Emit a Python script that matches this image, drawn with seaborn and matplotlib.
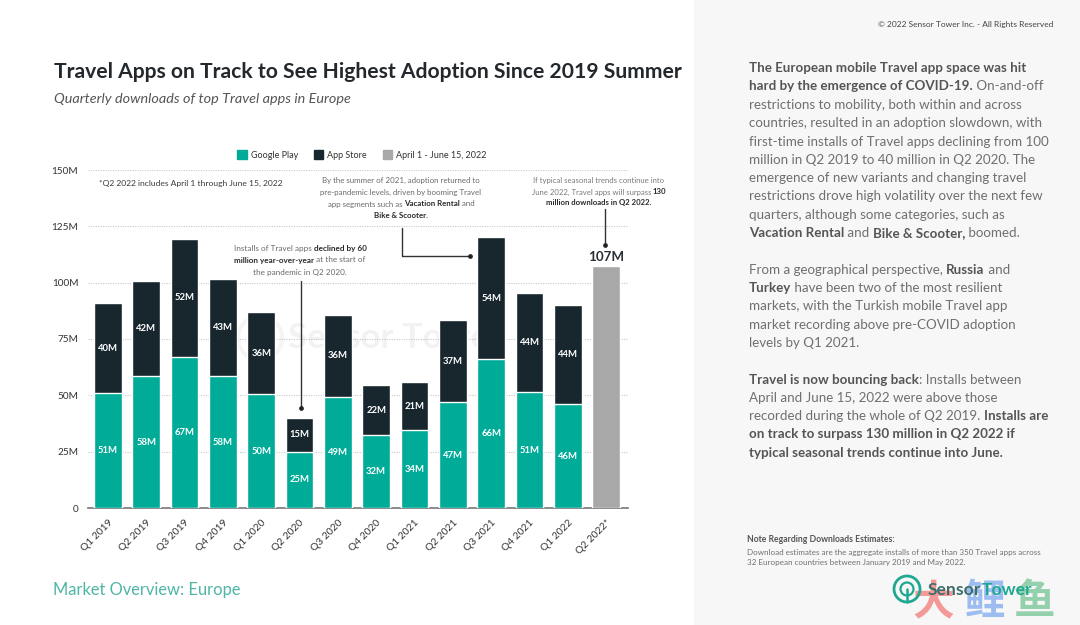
import matplotlib
matplotlib.use('Agg')
import matplotlib.pyplot as plt
from matplotlib.patches import Patch, Rectangle, Circle
import numpy as np
import pandas as pd
import seaborn as sns

quarters = ['Q1 2019', 'Q2 2019', 'Q3 2019', 'Q4 2019', 'Q1 2020', 'Q2 2020', 'Q3 2020',
            'Q4 2020', 'Q1 2021', 'Q2 2021', 'Q3 2021', 'Q4 2021', 'Q1 2022', 'Q2 2022*']
google_play = [51, 58.4, 67.2, 58.4, 50.4, 25, 49.4, 32.4, 34.4, 46.9, 66, 51.4, 46, np.nan]
app_store = [40, 42.4, 52.2, 43.4, 36.4, 15, 36.4, 22, 21.4, 36.6, 54.3, 44.2, 44.3, np.nan]
partial_q2 = [np.nan] * 13 + [107.6]
partial_label = '107M'

y_ticks = [0, 25, 50, 75, 100, 125, 150]
y_labels = ['0', '25M', '50M', '75M', '100M', '125M', '150M']

GREEN = '#00ab98'
DARK = '#18262e'
GREY = '#a8a8a8'
BODY = '#6f6f6f'
BODY_BOLD = '#555555'
FONT = 'Lato'

title = 'Travel Apps on Track to See Highest Adoption Since 2019 Summer'
subtitle = 'Quarterly downloads of top Travel apps in Europe'
footnote = '*Q2 2022 includes April 1 through June 15, 2022'
copyright_text = '© 2022 Sensor Tower Inc. - All Rights Reserved'
footer = 'Market Overview: Europe'

# (text, bold) runs per line
note_2020 = [[('Installs of Travel apps ', 0), ('declined by 60', 1)],
             [('million year-over-year', 1), (' at the start of', 0)],
             [('the pandemic in Q2 2020.', 0)]]
note_2021 = [[('By the summer of 2021, adoption returned to', 0)],
             [('pre-pandemic levels, driven by booming Travel', 0)],
             [('app segments such as ', 0), ('Vacation Rental', 1), (' and', 0)],
             [('Bike & Scooter.', 1)]]
note_2022 = [[('If typical seasonal trends continue into', 0)],
             [('June 2022, Travel apps will surpass ', 0), ('130', 1)],
             [('million downloads in Q2 2022.', 1)]]

panel_1 = [[('The European mobile Travel app space was hit', 1)],
           [('hard by the emergence of COVID-19.', 1), (' On-and-off', 0)],
           [('restrictions to mobility, both within and across', 0)],
           [('countries, resulted in an adoption slowdown, with', 0)],
           [('first-time installs of Travel apps declining from 100', 0)],
           [('million in Q2 2019 to 40 million in Q2 2020. The', 0)],
           [('emergence of new variants and changing travel', 0)],
           [('restrictions drove high volatility over the next few', 0)],
           [('quarters, although some categories, such as', 0)],
           [('Vacation Rental', 1), (' and ', 0), ('Bike & Scooter,', 1), (' boomed.', 0)]]
panel_2 = [[('From a geographical perspective, ', 0), ('Russia', 1), (' and', 0)],
           [('Turkey', 1), (' have been two of the most resilient', 0)],
           [('markets, with the Turkish mobile Travel app', 0)],
           [('market recording above pre-COVID adoption', 0)],
           [('levels by Q1 2021.', 0)]]
panel_3 = [[('Travel is now bouncing back', 1), (': Installs between', 0)],
           [('April and June 15, 2022 were above those', 0)],
           [('recorded during the whole of Q2 2019. ', 0), ('Installs are', 1)],
           [('on track to surpass 130 million in Q2 2022 if', 1)],
           [('typical seasonal trends continue into June.', 1)]]
est_head = 'Note Regarding Downloads Estimates:'
est_lines = ['Download estimates are the aggregate installs of more than 350 Travel apps across',
             '32 European countries between January 2019 and May 2022.']

sns.set_theme(style='white')
plt.rcParams['font.family'] = [FONT, 'DejaVu Sans']

df = pd.DataFrame({'quarter': quarters, 'google': google_play, 'app': app_store, 'partial': partial_q2})
df['total'] = df['google'] + df['app']

fig = plt.figure(figsize=(10.8, 6.25), dpi=100, facecolor='white')
ax = fig.add_axes([88 / 1080, 1 - 508 / 625, 540 / 1080, 338 / 625])

# totals in dark, Google Play over them, so the dark part is the App Store share
sns.barplot(data=df, x='quarter', y='total', order=quarters, color=DARK, saturation=1, width=0.72, ax=ax, zorder=3)
sns.barplot(data=df, x='quarter', y='google', order=quarters, color=GREEN, saturation=1, width=0.72, ax=ax, zorder=3)
sns.barplot(data=df, x='quarter', y='partial', order=quarters, color=GREY, saturation=1, width=0.72, ax=ax, zorder=3)

ax.set_xlim(-0.52, 13.57)
ax.set_ylim(0, 150)
ax.set_xlabel('')
ax.set_ylabel('')
ax.set_yticks(y_ticks, y_labels)
ax.tick_params(axis='y', length=0, labelsize=7.2, labelcolor='#333333', pad=7)
ax.tick_params(axis='x', length=0, labelsize=7.4, labelcolor='#333333', pad=7)
plt.setp(ax.get_xticklabels(), rotation=45, ha='right', rotation_mode='anchor')
ax.set_axisbelow(True)
ax.grid(axis='y', color='#c8c8c8', linestyle=(0, (1, 1.2)), linewidth=0.8)
sns.despine(ax=ax, left=True, top=True, right=True)
ax.spines['bottom'].set_color('#777777')
ax.spines['bottom'].set_linewidth(1.2)

for i in range(13):
    ax.text(i, google_play[i] / 2, f'{google_play[i]:.0f}M', color='white', fontsize=6.8, fontweight='bold',
            ha='center', va='center', zorder=4)
    ax.text(i, google_play[i] + app_store[i] / 2, f'{app_store[i]:.0f}M', color='white', fontsize=6.8,
            fontweight='bold', ha='center', va='center', zorder=4)
ax.text(13, partial_q2[13] + 1, partial_label, color='#2a2f33', fontsize=9.6, fontweight='bold', ha='center', va='bottom')

handles = [Patch(color=GREEN, label='Google Play'), Patch(color=DARK, label='App Store'),
           Patch(color=GREY, label='April 1 - June 15, 2022')]
fig.legend(handles=handles, ncol=3, frameon=False, loc='center', bbox_to_anchor=(362 / 1080, 1 - 155 / 625),
           fontsize=6.5, handlelength=1.05, handleheight=1.05, handletextpad=0.45, columnspacing=1.75,
           labelcolor='#333333')

# overlay in pixel coordinates for the page furniture
pg = fig.add_axes([0, 0, 1, 1], facecolor='none')
pg.set_xlim(0, 1080)
pg.set_ylim(625, 0)
pg.axis('off')
pg.add_patch(Rectangle((694, 0), 386, 625, color='#f7f7f7', zorder=0))

renderer = fig.canvas.get_renderer()


def text_width(s, size, weight):
    # the bar keeps trailing spaces in the measure
    probe = pg.text(0, 0, s + '|', fontsize=size, fontweight=weight)
    bar = pg.text(0, 0, '|', fontsize=size, fontweight=weight)
    w = probe.get_window_extent(renderer).width - bar.get_window_extent(renderer).width
    probe.remove()
    bar.remove()
    return w


def rich_lines(lines, x, ys, size, color, bold_color, ha='left'):
    for runs, y in zip(lines, ys):
        widths = [text_width(s, size, 'bold' if b else 'normal') for s, b in runs]
        cur = x - sum(widths) / 2 if ha == 'center' else x
        for (s, b), w in zip(runs, widths):
            pg.text(cur, y, s, fontsize=size, color=bold_color if b else color,
                    fontweight='bold' if b else 'normal', va='center', ha='left')
            cur += w


pg.text(54, 72, title, fontsize=15.25, fontweight='bold', color='#23282c', va='center')
pg.text(54, 99, subtitle, fontsize=10.4, style='italic', color='#555555', va='center')
pg.text(1053, 25, copyright_text, fontsize=6.0, color='#444444', va='center', ha='right')
pg.text(53, 590, footer, fontsize=11.9, color='#4fb5a5', va='center')
pg.text(99, 183, footnote, fontsize=6.1, color='#3a3a3a', va='center')

rich_lines(note_2020, 300, [248, 260, 272], 5.9, '#6a6a6a', '#2a2a2a', 'center')
rich_lines(note_2021, 401, [180, 192, 204, 215], 5.7, '#6a6a6a', '#2a2a2a', 'center')
rich_lines(note_2022, 599, [180, 192, 203], 5.6, '#7a7a7a', '#2a2a2a', 'center')

rich_lines(panel_1, 749, [68, 86, 105, 123, 142, 160, 178, 196, 215, 233], 9.65, BODY, BODY_BOLD)
rich_lines(panel_2, 749, [270, 288, 306, 325, 343], 9.65, BODY, BODY_BOLD)
rich_lines(panel_3, 749, [380, 398, 416, 434, 453], 9.65, BODY, BODY_BOLD)

pg.text(747, 540, est_head, fontsize=6.2, fontweight='bold', color='#555555', va='center')
for s, y in zip(est_lines, [552, 563]):
    pg.text(747, y, s, fontsize=5.75, color='#707070', va='center')

# leader lines
for xs, ys in [([300.5, 300.5], [281, 408]), ([402, 402, 470], [228, 256, 256]), ([605, 605], [209, 245])]:
    pg.plot(xs, ys, color='#333333', lw=1)
    pg.plot(xs[-1], ys[-1], 'o', color='#222222', ms=2.4)

# faded watermark behind the bars
ax.text(288, 338, 'Sensor Tower', transform=pg.transData, fontsize=25, fontweight='bold', color='#888888',
        alpha=0.10, va='center', zorder=1)
ax.add_patch(Circle((260, 338), 22, transform=pg.transData, fill=False, ec='#888888', lw=3, alpha=0.08, zorder=1))

# site mark, then the logo over it
for s, x, c in [('大', 933, '#f39a98'), ('鲤', 984, '#9dbdf0'), ('鱼', 1034, '#95d0ac')]:
    pg.text(x, 602, s, fontsize=30, fontweight='bold', color=c, ha='center', va='center',
            family=['Noto Sans CJK SC', 'DejaVu Sans'], zorder=5)
pg.text(928, 590, 'Sensor', fontsize=12.6, fontweight='bold', color='#3d6d6a', va='center', zorder=6)
pg.text(982, 590, 'Tower', fontsize=12.6, fontweight='bold', color='#1ea892', va='center', zorder=6)
pg.add_patch(Circle((907, 589), 13, fill=False, ec='#1ea892', lw=2, zorder=6))
pg.add_patch(Circle((907, 589), 6.5, fill=False, ec='#1ea892', lw=1.6, zorder=6))
pg.plot([907, 907], [589, 602], color='#1ea892', lw=1.8, zorder=6)

fig.savefig('out.png', dpi=100)
